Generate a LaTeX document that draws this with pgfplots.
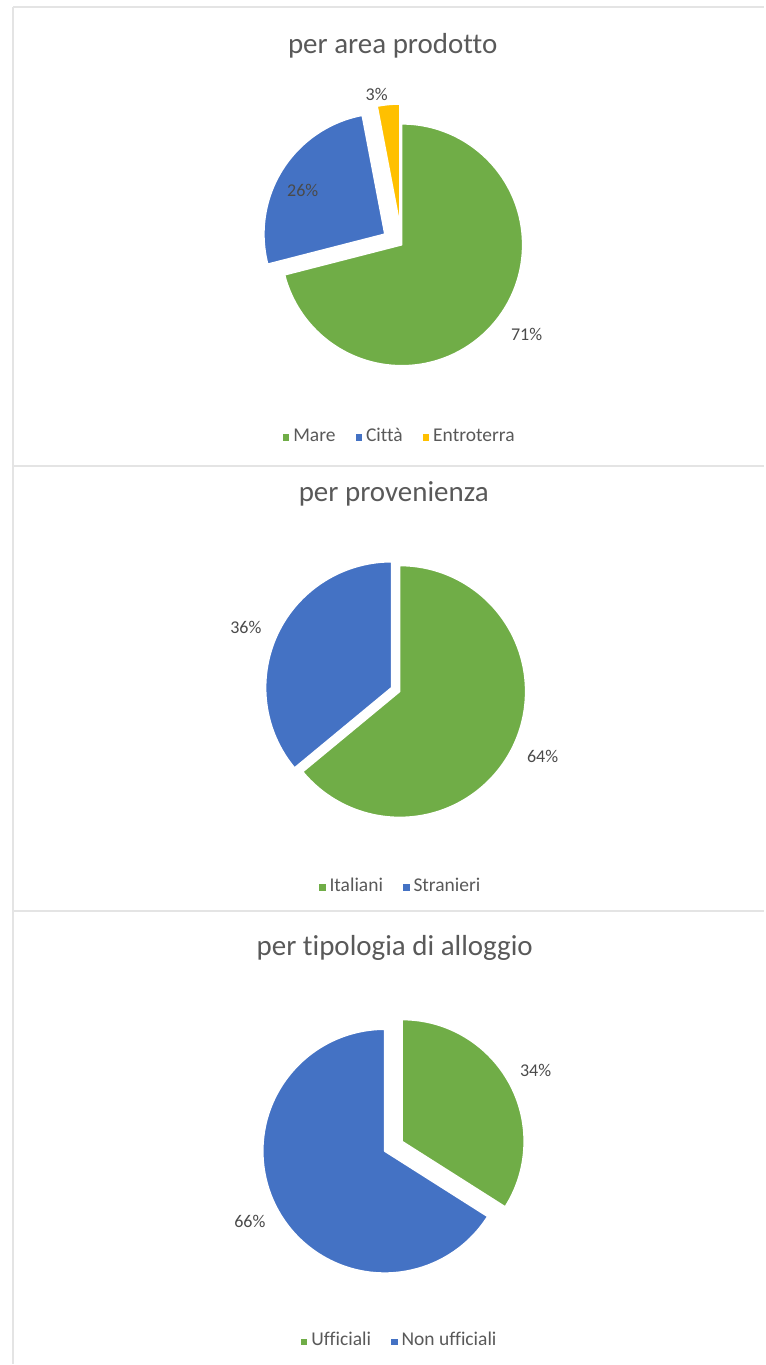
\documentclass[border=0pt]{standalone}
\usepackage{fontspec}
\setmainfont{Carlito}[Ligatures=NoCommon]
\usepackage{pgfplots}
\usepackage{pgfplotstable}
\pgfplotsset{compat=1.18}

\definecolor{pgreen}{HTML}{70AD47}
\definecolor{pblue}{HTML}{4472C4}
\definecolor{pyellow}{HTML}{FFC000}
\definecolor{txt}{HTML}{595959}
\definecolor{lbl}{HTML}{4A4A4A}
\definecolor{frame}{HTML}{E4E4E4}

% value = percent, explode = offset in px, lx/ly = label position in px (from top)
\pgfplotstableread{
value explode color lx ly
71 0 pgreen 527 335
26 20 pblue 303 191
3 20 pyellow 377 95
}\areatab
\pgfplotstableread{
value explode color lx ly
64 0 pgreen 543 757
36 9 pblue 246 628
}\provtab
\pgfplotstableread{
value explode color lx ly
34 20 pgreen 536 1071
66 0 pblue 250 1222
}\allotab

% #1 table, #2 centre x, #3 centre y (px from top), #4 radius
\newcommand\drawpie[4]{%
  \pgfplotstablegetrowsof{#1}%
  \pgfmathtruncatemacro\lastrow{\pgfplotsretval-1}%
  \xdef\piecum{0}%
  \foreach \i in {0,...,\lastrow}{%
    \pgfplotstablegetelem{\i}{value}\of{#1}\let\pv\pgfplotsretval
    \pgfplotstablegetelem{\i}{explode}\of{#1}\let\pe\pgfplotsretval
    \pgfplotstablegetelem{\i}{color}\of{#1}\let\pc\pgfplotsretval
    \pgfplotstablegetelem{\i}{lx}\of{#1}\let\plx\pgfplotsretval
    \pgfplotstablegetelem{\i}{ly}\of{#1}\let\ply\pgfplotsretval
    \pgfmathsetmacro\angA{90-3.6*\piecum}%
    \pgfmathsetmacro\angB{90-3.6*(\piecum+\pv)}%
    \pgfmathsetmacro\angM{(\angA+\angB)/2}%
    \pgfmathsetmacro\ox{#2+\pe*cos(\angM)}%
    \pgfmathsetmacro\oy{1365-#3+\pe*sin(\angM)}%
    \pgfmathsetmacro\sx{\ox+#4*cos(\angA)}%
    \pgfmathsetmacro\sy{\oy+#4*sin(\angA)}%
    \pgfmathsetmacro\lyy{1365-\ply}%
    \edef\temp{\noexpand\fill[fill=\pc, draw=white, line width=1.5pt, line join=round]
      (axis cs:\ox,\oy) -- (axis cs:\sx,\sy)
      arc[start angle=\angA, end angle=\angB, radius=#4pt] -- cycle;
      \noexpand\node[font={\noexpand\fontsize{18}{20}\noexpand\selectfont}, text=lbl]
      at (axis cs:\plx,\lyy) {\pv\noexpand\%};}%
    \temp
    \pgfmathsetmacro\newcum{\piecum+\pv}\xdef\piecum{\newcum}%
  }%
}

\newcommand\key[1]{\textcolor{#1}{\raisebox{0.5pt}{\rule{6.5pt}{6.5pt}}}\hspace{4pt}}

\begin{document}
\begin{tikzpicture}
\begin{axis}[
  width=765pt, height=1365pt, scale only axis,
  xmin=0, xmax=765, ymin=0, ymax=1365,
  hide axis, clip=false,
]
\path (axis cs:0,0) rectangle (axis cs:765,1365);
% panel frames
\draw[frame, line width=2pt] (axis cs:13,0) -- (axis cs:13,1358);
\draw[frame, line width=2pt] (axis cs:13,1358) -- (axis cs:765,1358);
\draw[frame, line width=2pt] (axis cs:13,899) -- (axis cs:765,899);
\draw[frame, line width=2pt] (axis cs:13,453) -- (axis cs:765,453);

% titles
\node[font={\fontsize{29}{34}\selectfont}, text=txt] at (axis cs:393,1319) {per area prodotto};
\node[font={\fontsize{29}{34}\selectfont}, text=txt] at (axis cs:394,871) {per provenienza};
\node[font={\fontsize{29}{34}\selectfont}, text=txt] at (axis cs:395,416) {per tipologia di alloggio};

% pies
\drawpie{\areatab}{402}{245}{121}
\drawpie{\provtab}{400}{692}{126}
\drawpie{\allotab}{385}{1152}{122}

% legends
\node[font={\fontsize{19.5}{22}\selectfont}, text=txt] at (axis cs:399,930)
  {\key{pgreen}Mare\hspace{20pt}\key{pblue}Città\hspace{20pt}\key{pyellow}Entroterra};
\node[font={\fontsize{19.5}{22}\selectfont}, text=txt] at (axis cs:400,480)
  {\key{pgreen}Italiani\hspace{20pt}\key{pblue}Stranieri};
\node[font={\fontsize{19.5}{22}\selectfont}, text=txt] at (axis cs:399,25)
  {\key{pgreen}Ufficiali\hspace{20pt}\key{pblue}Non ufficiali};
\end{axis}
\end{tikzpicture}
\end{document}
